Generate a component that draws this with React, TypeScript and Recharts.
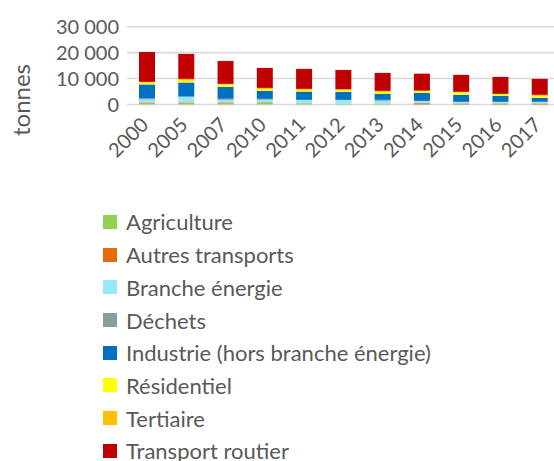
import React from 'react';
import { BarChart, Bar, XAxis, YAxis, CartesianGrid, Legend } from 'recharts';

const years = ['2000', '2005', '2007', '2010', '2011', '2012', '2013', '2014', '2015', '2016', '2017'];

const agriculture = [400, 400, 400, 600, 500, 250, 400, 0, 0, 0, 0];
const autresTransports = [400, 400, 400, 250, 0, 0, 0, 500, 400, 400, 400];
const brancheEnergie = [1150, 2050, 1000, 1000, 1300, 1540, 1030, 900, 640, 640, 640];
const dechets = [400, 250, 400, 330, 0, 0, 380, 0, 0, 0, 0];
const industrie = [5400, 5400, 4600, 3080, 3200, 3080, 2300, 3080, 2700, 2300, 1540];
const residentiel = [750, 770, 900, 650, 640, 640, 770, 770, 1000, 670, 770];
const tertiaire = [250, 640, 250, 500, 390, 390, 390, 100, 150, 100, 380];
const transportRoutier = [11500, 9600, 8850, 7700, 7700, 7430, 6920, 6540, 6540, 6540, 6150];

const yTicks = [0, 10000, 20000, 30000];

const series = [
  { key: 'agriculture', name: 'Agriculture', color: '#92D050', values: agriculture },
  { key: 'autresTransports', name: 'Autres transports', color: '#E46C0A', values: autresTransports },
  { key: 'brancheEnergie', name: 'Branche énergie', color: '#99E6FF', values: brancheEnergie },
  { key: 'dechets', name: 'Déchets', color: '#869E9E', values: dechets },
  { key: 'industrie', name: 'Industrie (hors branche énergie)', color: '#0070C0', values: industrie },
  { key: 'residentiel', name: 'Résidentiel', color: '#FFFF00', values: residentiel },
  { key: 'tertiaire', name: 'Tertiaire', color: '#FFC000', values: tertiaire },
  { key: 'transportRoutier', name: 'Transport routier', color: '#C00000', values: transportRoutier },
];

const data = years.map((year, i) => {
  const row: Record<string, number | string> = { year };
  series.forEach((s) => {
    row[s.key] = s.values[i];
  });
  return row;
});

const FONT = 'Lato, "Open Sans", sans-serif';
const GREY = '#595959';

const formatThousands = (v: number) => String(v).replace(/\B(?=(\d{3})+(?!\d))/g, ' ');

const XTick = (props: any) => {
  const { x, y, payload } = props;
  const ex = x + 3;
  const ey = y + 13.5;
  return (
    <text
      x={ex}
      y={ey}
      transform={`rotate(-45 ${ex} ${ey})`}
      textAnchor="end"
      fill={GREY}
      fontSize={20}
      fontFamily={FONT}
    >
      {payload.value}
    </text>
  );
};

const YLabel = () => (
  <text
    x={20}
    y={100}
    transform="rotate(-90 20 100)"
    textAnchor="middle"
    dominantBaseline="central"
    fill={GREY}
    fontSize={24}
    fontFamily={FONT}
  >
    tonnes
  </text>
);

const LegendList = () => (
  <div style={{ fontFamily: FONT, fontSize: 22, color: GREY }}>
    {series.map((s) => (
      <div
        key={s.key}
        style={{ display: 'flex', alignItems: 'center', height: 32.7, whiteSpace: 'nowrap' }}
      >
        <span style={{ width: 14, height: 14, background: s.color, marginRight: 9, flex: 'none' }} />
        <span>{s.name}</span>
      </div>
    ))}
  </div>
);

export default function App() {
  return (
    <div
      style={{
        position: 'absolute',
        left: 0,
        top: 0,
        width: 554,
        height: 461,
        overflow: 'hidden',
        background: '#fff',
      }}
    >
      <BarChart
        width={559}
        height={461}
        data={data}
        margin={{ top: 26.7, right: 0, left: 0, bottom: 0 }}
        barSize={16}
      >
        <CartesianGrid vertical={false} stroke="#D9D9D9" strokeWidth={1.6} />
        <XAxis
          dataKey="year"
          height={356.5}
          axisLine={false}
          tickLine={false}
          interval={0}
          tick={<XTick />}
        />
        <YAxis
          width={127}
          domain={[0, 30000]}
          ticks={yTicks}
          interval={0}
          axisLine={false}
          tickLine={false}
          tickFormatter={formatThousands}
          tick={{ fill: GREY, fontSize: 20, fontFamily: FONT }}
          label={<YLabel />}
        />
        <Legend
          content={<LegendList />}
          wrapperStyle={{ left: 103, top: 205.6, width: 0, height: 0, overflow: 'visible' }}
        />
        {series.map((s) => (
          <Bar
            key={s.key}
            dataKey={s.key}
            name={s.name}
            stackId="a"
            fill={s.color}
            isAnimationActive={false}
          />
        ))}
      </BarChart>
    </div>
  );
}
